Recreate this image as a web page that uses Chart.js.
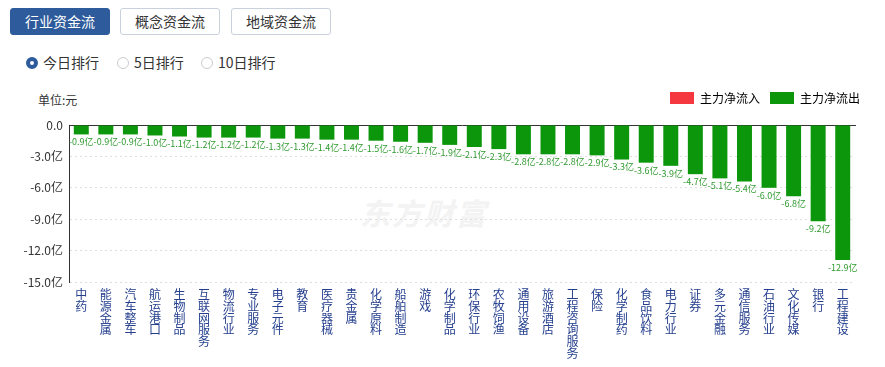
<!DOCTYPE html>
<html>
<head>
<meta charset="utf-8">
<script src="https://cdn.jsdelivr.net/npm/chart.js@4"></script>
<style>
  body { margin: 0; width: 885px; height: 367px; background: #fff; position: relative; overflow: hidden;
         font-family: "Noto Sans CJK SC", "Noto Sans", sans-serif; color: #333; }
  .tab { position: absolute; top: 8px; height: 27px; width: 100px; box-sizing: border-box; border: 1px solid #c9d1dd;
         border-radius: 3px; font-size: 14px; line-height: 25px; text-align: center; color: #333; background: #fff; }
  .tab.on { background: #2e5b9b; border-color: #2e5b9b; color: #fff; }
  .radio { position: absolute; top: 53px; font-size: 14px; line-height: 18px; color: #333; }
  .radio i { display: inline-block; width: 10px; height: 10px; border: 1px solid #ccc; border-radius: 50%;
             vertical-align: -1px; margin-right: 5px; box-sizing: content-box; }
  .radio.on i { border: 4px solid #2e5b9b; width: 4px; height: 4px; }
  .unit { position: absolute; left: 38px; top: 91px; font-size: 12px; color: #333; }
  .mark { position: absolute; left: 360px; top: 190px; font-size: 30px; font-weight: bold; font-style: italic;
          color: #f3f3f3; letter-spacing: 2px; }
  #wrap { position: absolute; left: 0; top: 80px; width: 885px; height: 287px; }
</style>
</head>
<body>
<div class="tab on" style="left:10px">行业资金流</div>
<div class="tab" style="left:120px">概念资金流</div>
<div class="tab" style="left:231px">地域资金流</div>
<div class="radio on" style="left:26px"><i></i>今日排行</div>
<div class="radio" style="left:117px"><i></i>5日排行</div>
<div class="radio" style="left:201px"><i></i>10日排行</div>
<div class="unit">单位:元</div>
<div class="mark">东方财富</div>
<div id="wrap"><canvas id="flowChart"></canvas></div>
<script>
// 行业主力净流入 (亿元)
const industries = ['中药', '能源金属', '汽车整车', '航运港口', '生物制品', '互联网服务', '物流行业', '专业服务',
  '电子元件', '教育', '医疗器械', '贵金属', '化学原料', '船舶制造', '游戏', '化学制品', '环保行业', '农牧饲渔',
  '通用设备', '旅游酒店', '工程咨询服务', '保险', '化学制药', '食品饮料', '电力行业', '证券', '多元金融',
  '通信服务', '石油行业', '文化传媒', '银行', '工程建设'];
const netFlow = [-0.9, -0.9, -0.9, -1.0, -1.1, -1.2, -1.2, -1.2, -1.3, -1.3, -1.4, -1.4, -1.5, -1.6, -1.7,
  -1.9, -2.1, -2.3, -2.8, -2.8, -2.8, -2.9, -3.3, -3.6, -3.9, -4.7, -5.1, -5.4, -6.0, -6.8, -9.2, -12.9];
const legendNames = ['主力净流入', '主力净流出'];
const yMin = -15, yMax = 0, yStep = 3;

const RED = '#f5383f';
const GREEN = '#0c960c';

// value labels under each bar
const valueLabels = {
    id: 'valueLabels',
    afterDatasetsDraw(chart) {
        const ctx = chart.ctx;
        const meta = chart.getDatasetMeta(0);
        ctx.save();
        ctx.font = '9px "Noto Sans CJK SC", sans-serif';
        ctx.fillStyle = '#2f9a2f';
        ctx.textAlign = 'center';
        ctx.textBaseline = 'top';
        meta.data.forEach((bar, i) => {
            ctx.fillText(netFlow[i].toFixed(1) + '亿', bar.x, bar.y + 3);
        });
        ctx.restore();
    }
};

// a bit more room under the legend
const legendGap = {
    id: 'legendGap',
    beforeInit(chart) {
        const fit = chart.legend.fit;
        chart.legend.fit = function () {
            fit.call(this);
            this.height += 11;
        };
    }
};

new Chart(document.getElementById('flowChart'), {
    type: 'bar',
    data: {
        labels: industries.map(s => s.split('')),
        datasets: [{
            label: legendNames[1],
            data: netFlow,
            backgroundColor: c => (c.raw >= 0 ? RED : GREEN),
            categoryPercentage: 1,
            barPercentage: 0.61
        }]
    },
    options: {
        responsive: true,
        maintainAspectRatio: false,
        animation: false,
        layout: { padding: { left: 0, right: 15, top: 2, bottom: 0 } },
        plugins: {
            tooltip: { enabled: false },
            legend: {
                position: 'top',
                align: 'end',
                labels: {
                    boxWidth: 24,
                    boxHeight: 12,
                    useBorderRadius: true,
                    borderRadius: 3,
                    padding: 10,
                    color: '#333',
                    font: { size: 12, family: '"Noto Sans CJK SC", sans-serif' },
                    generateLabels: () => [
                        { text: legendNames[0], fillStyle: RED, strokeStyle: RED, lineWidth: 0 },
                        { text: legendNames[1], fillStyle: GREEN, strokeStyle: GREEN, lineWidth: 0 }
                    ]
                }
            }
        },
        scales: {
            x: {
                grid: { display: false, drawTicks: false },
                border: { display: false },
                ticks: {
                    autoSkip: false,
                    maxRotation: 0,
                    minRotation: 0,
                    padding: 7,
                    color: '#26408f',
                    font: { size: 12, lineHeight: 0.97, family: '"Noto Sans CJK SC", sans-serif' }
                },
                afterFit: s => { s.height = 85; }
            },
            xTop: {
                type: 'category',
                labels: industries,
                position: 'top',
                grid: { display: false, drawTicks: false },
                ticks: { display: false },
                border: { display: true, color: '#333', width: 1 },
                afterFit: s => { s.height = 0; }
            },
            y: {
                min: yMin,
                max: yMax,
                grid: { color: '#dedede', drawTicks: false },
                border: { display: true, color: '#333', dash: [2, 3] },
                ticks: {
                    stepSize: yStep,
                    padding: 6,
                    color: '#333',
                    font: { size: 12, family: '"Noto Sans CJK SC", sans-serif' },
                    callback: v => (v === 0 ? '0.0' : v.toFixed(1) + '亿')
                },
                afterFit: s => { s.width = 69; }
            },
            yRight: {
                position: 'right',
                min: yMin,
                max: yMax,
                grid: { display: false, drawTicks: false },
                border: { display: false },
                ticks: { display: false },
                afterFit: s => { s.width = 15; }
            }
        }
    },
    plugins: [valueLabels, legendGap]
});
</script>
</body>
</html>
